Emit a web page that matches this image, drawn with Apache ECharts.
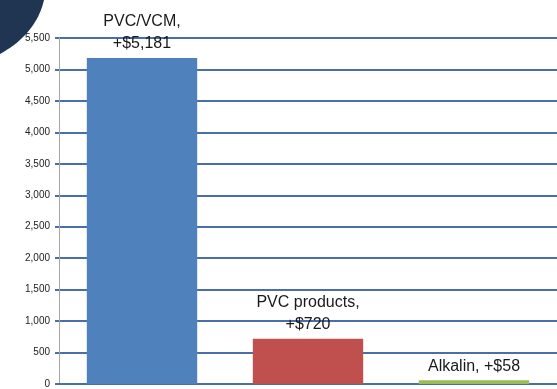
<!DOCTYPE html>
<html><head><meta charset="utf-8">
<script src="https://cdn.jsdelivr.net/npm/echarts@6/dist/echarts.min.js"></script>
<style>html,body{margin:0;padding:0;background:#fff}#c{width:557px;height:389px}</style>
</head><body><div id="c"></div>
<script>
var categories = ['PVC/VCM', 'PVC products', 'Alkalin'];
var values = [5181, 720, 58];
var colors = ['#4f81bd', '#c0504d', '#9bbb59'];
var labelWrap = [true, true, false];
var yTicks = {min: 0, max: 5500, interval: 500};

function fmt(v){ return String(v).replace(/\B(?=(\d{3})+(?!\d))/g, ','); }

// decorative corner shape (quadratic curve approximated by polygon)
var cornerPts = [[0, 0]];
for (var t = 0; t <= 1.0001; t += 0.05) {
  var x = (1-t)*(1-t)*44 + 2*(1-t)*t*36 + t*t*0;
  var y = (1-t)*(1-t)*0 + 2*(1-t)*t*34 + t*t*54;
  cornerPts.push([x, y]);
}

var chart = echarts.init(document.getElementById('c'));
chart.setOption({
  animation: false,
  grid: {left: 59, top: 38, width: 500, bottom: 5, containLabel: false},
  graphic: [{
    type: 'polygon', z: 100,
    shape: {points: cornerPts},
    style: {fill: '#1f3552'}
  }],
  xAxis: {
    type: 'category', data: categories,
    axisLine: {show: true, lineStyle: {color: '#4a6fa8', width: 2}},
    axisTick: {show: false}, axisLabel: {show: false}
  },
  yAxis: {
    type: 'value', min: yTicks.min, max: yTicks.max, interval: yTicks.interval,
    axisLine: {show: true, lineStyle: {color: '#a6a6a6', width: 1}},
    axisTick: {show: true, length: 4, lineStyle: {color: '#4a6fa8', width: 2}},
    splitLine: {show: true, lineStyle: {color: '#4a6fa8', width: 2}},
    axisLabel: {
      margin: 9, color: '#222', fontSize: 10,
      fontFamily: '"Liberation Sans Narrow", "Arial Narrow", sans-serif',
      formatter: function(v){ return fmt(v); }
    }
  },
  series: [{
    type: 'bar', barCategoryGap: '33.5%',
    data: values.map(function(v, i){ return {value: v, itemStyle: {color: colors[i]}}; }),
    label: {
      show: true, position: 'top', distance: 3,
      color: '#1a1a1a', fontSize: 16, lineHeight: 22,
      fontFamily: '"Liberation Sans Narrow", "Arial Narrow", sans-serif',
      formatter: function(p){
        return categories[p.dataIndex] + ',' + (labelWrap[p.dataIndex] ? '\n' : ' ') + '+$' + fmt(p.value);
      }
    }
  }]
});
</script></body></html>
